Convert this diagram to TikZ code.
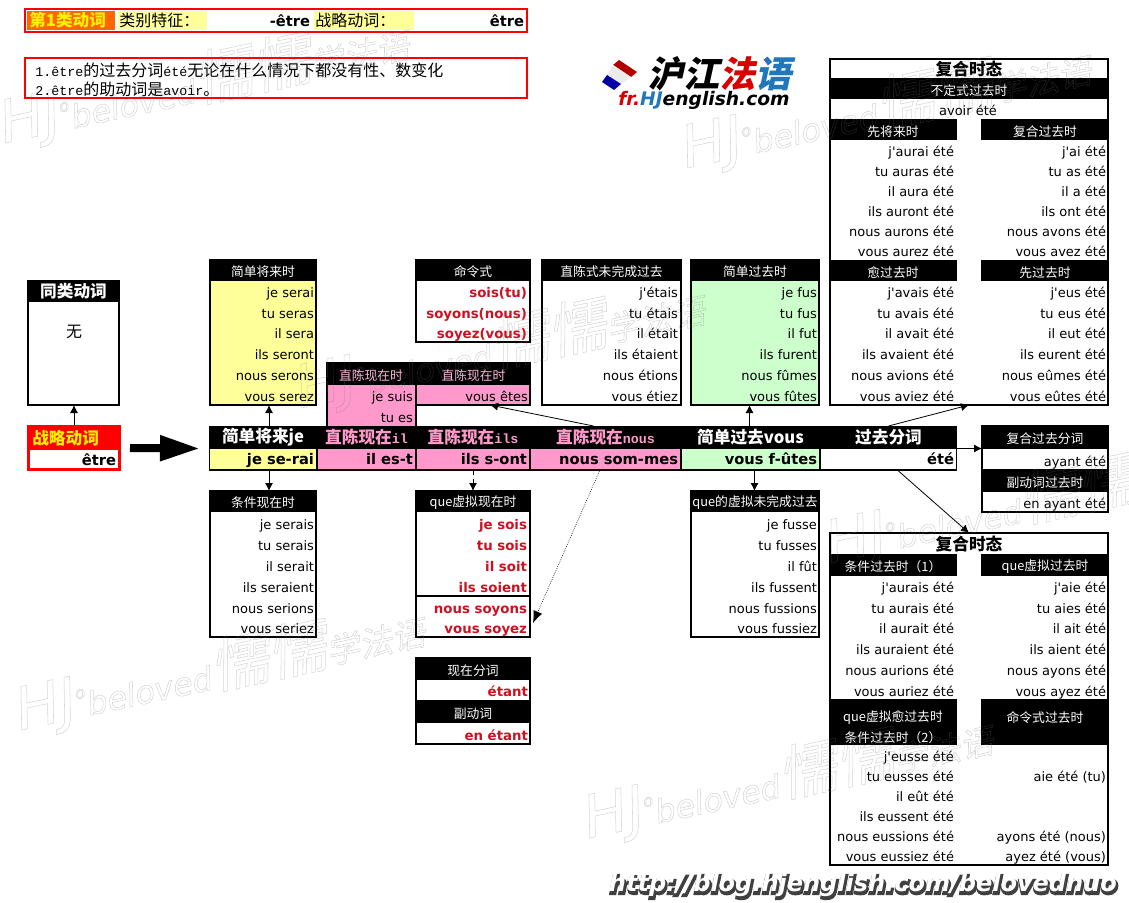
\documentclass[tikz,border=0pt]{standalone}
\usepackage{fontspec}
\setmainfont{DejaVu Sans}
\newfontfamily\cjk{Noto Sans CJK SC}
\newfontfamily\cjkit[FakeSlant=0.22]{Noto Sans CJK SC}
\newfontfamily\mono{Liberation Mono}
\usetikzlibrary{fit,arrows.meta}
\definecolor{cellyellow}{HTML}{FFFF99}
\definecolor{cellpink}{HTML}{FF99CC}
\definecolor{cellgreen}{HTML}{CCFFCC}
\definecolor{cellorange}{HTML}{FF6600}
\definecolor{verbred}{HTML}{CC1122}
\definecolor{logoblue}{HTML}{2277BB}
\newcommand{\fs}[1]{\fontsize{#1}{#1}\selectfont}
\newcommand{\lat}[1]{{\mono\fs{10}#1}}
\newcommand{\ap}{\textquotesingle}
\newcommand{\outl}[1]{\special{pdf:code 1 Tr 0.4 w}#1\special{pdf:code 0 Tr}}
\tikzset{
	frame/.style={draw=black,line width=1.5pt,fill=white,inner sep=0pt,outer sep=0pt},
	redframe/.style={draw=red,line width=2pt,fill=white,inner sep=0pt,outer sep=0pt},
	band/.style={fill=black,inner sep=0pt,outer sep=0pt},
	cell/.style={inner sep=0pt,outer sep=0pt},
	head/.style={text=white,inner sep=0pt,yshift=-1.5pt,font=\cjk\fs{9.6}},
	bighead/.style={text=white,inner sep=0pt,font=\cjk\bfseries\fs{12.5}},
	verb/.style={anchor=east,inner sep=0pt,outer sep=0pt,yshift=-1.5pt,font=\fs{9.75},text height=7pt,text depth=2pt},
	redverb/.style={verb,font=\bfseries\fs{10},text=verbred},
	barverb/.style={verb,font=\bfseries\fs{11}},
	conn/.style={line width=.6pt,-{Latex[length=6pt,width=6pt]}},
	wmark/.style={anchor=west,rotate=12,inner sep=0pt,text=black!55}
}
% frame, band and rows
\newcommand{\frm}[6][frame]{\node[#1,fit={(#3,#4) (#5,#6)}] (#2) {};}
\newcommand{\hd}[6]{\node[band,fit={(#2,#3) (#4,#5)}] (#1) {}; \node[head] (#1t) at (#1.center) {#6};}
\newcommand{\rows}[4][verb]{\foreach \yy/\vv [count=\ii] in {#4} \node[#1] (#2\ii) at (#3,\yy) {\vv};}
\newcommand{\barcell}[7]{\node[cell,fit={(#2,426) (#3,471)}] (#1) {};
	\node[cell,fill=#4,fit={(#2+1,449) (#3-1,469)}] (#1r) {};
	\node[bighead,text=#5] (#1h) at ([yshift=-8.25pt]#1.north) {#6};
	\node[barverb] (#1v) at (#3-3,459) {#7};}
\newcommand{\wm}[3]{\node[wmark] (#1) at (#2,#3) {\outl{\itshape\fs{44}HJ\fs{12}\raisebox{14pt}{o}\fs{24}beloved\cjkit\fs{44}懦懦\fs{25}学法语}};}
\begin{document}
\begin{tikzpicture}[x=.75pt,y=-.75pt]
	\useasboundingbox (0,0) rectangle (1129,903);
	%
	% top bar and note
	\frm[redframe]{topbar}{25}{9}{527}{32}
	\node[cell,fill=cellorange,fit={(27,11) (115,30)}] (tcl) {};
	\node[cell,fill=cellyellow,fit={(118,11) (207,30)}] (tfe) {};
	\node[cell,fill=cellyellow,fit={(314,11) (414,30)}] (tst) {};
	\node[anchor=west,inner sep=0pt,text=yellow,font=\cjk\bfseries\fs{12.5}] (tclt) at (29,20) {第1类动词};
	\node[anchor=west,inner sep=0pt,font=\cjk\fs{12}] (tfet) at (119,20) {类别特征：};
	\node[anchor=west,inner sep=0pt,font=\cjk\fs{12}] (tstt) at (315,20) {战略动词：};
	\node[barverb] (tfev) at (310,21) {-être};
	\node[barverb] (tstv) at (524,21) {être};
	%
	\frm[redframe]{note}{25}{58}{527}{98}
	\node[anchor=west,inner sep=0pt,font=\cjk\fs{12}] (noteA) at (35,70) {\lat{1.être}的过去分词\lat{été}无论在什么情况下都没有性、数变化};
	\node[anchor=west,inner sep=0pt,font=\cjk\fs{12}] (noteB) at (35,89) {\lat{2.être}的助动词是\lat{avoir}。};
	%
	% logo
	\fill[red!70!black] (619,60) -- (637,72) -- (631,77) -- (613,65) -- cycle;
	\fill[black!8] (613,65) -- (631,77) -- (621,84) -- (607,75) -- cycle;
	\fill[blue!65!black] (607,75) -- (621,84) -- (614,90) -- (602,82) -- cycle;
	\node[inner sep=0pt,font=\cjkit\bfseries\fs{27}] (logoA) at (719,74) {沪江\textcolor{red!85!black}{法}\textcolor{logoblue}{语}};
	\node[inner sep=0pt,font=\itshape\bfseries\fs{14}] (logoB) at (704,100) {\textcolor{red!85!black}{fr.}\textcolor{logoblue}{HJ}english.com};
	%
	% left column
	\frm{same}{28}{281}{119}{405}
	\node[band,fit={(28,281) (119,302)}] (sameh) {};
	\node[bighead] (samet) at (sameh.center) {同类动词};
	\node[inner sep=0pt,font=\cjk\fs{12}] (none) at (74,332) {无};
	%
	\node[cell,fill=red,fit={(27,425) (121,471)}] (main) {};
	\node[cell,fill=white,fit={(30,450) (118,468)}] (mainr) {};
	\node[anchor=west,inner sep=0pt,text=yellow,font=\cjk\bfseries\fs{12.5}] (maint) at (32,438) {战略动词};
	\node[barverb] (mainv) at (116,460) {être};
	%
	% boxes above the bar
	\frm[frame,fill=cellyellow]{futur}{210}{260}{316}{405}
	\hd{futurh}{209}{259}{317}{281}{简单将来时}
	\rows{fu}{314}{292/je serai,313/tu seras,333/il sera,354/ils seront,375/nous serons,396/vous serez}
	%
	\frm[frame,fill=cellpink]{presa}{327}{363}{416}{428}
	\hd{presah}{326}{362}{416}{385}{\textcolor{cellpink!70!white}{直陈现在时}}
	\rows{pa}{413}{396/je suis,417/tu es}
	\frm[frame,fill=cellpink]{presb}{416}{363}{530}{405}
	\hd{presbh}{416}{362}{531}{385}{\textcolor{cellpink!70!white}{直陈现在时}}
	\rows{pb}{528}{396/vous êtes}
	%
	\frm{imper}{416}{260}{530}{342}
	\hd{imperh}{415}{259}{531}{281}{命令式}
	\rows[redverb]{im}{527}{292/sois(tu),313/soyons(nous),333/soyez(vous)}
	%
	\frm{impf}{542}{260}{681}{405}
	\hd{impfh}{541}{259}{682}{281}{直陈式未完成过去}
	\rows{ip}{678}{292/j\ap étais,313/tu étais,333/il était,354/ils étaient,375/nous étions,396/vous étiez}
	%
	\frm[frame,fill=cellgreen]{passe}{691}{260}{819}{405}
	\hd{passeh}{690}{259}{820}{281}{简单过去时}
	\rows{pe}{817}{292/je fus,313/tu fus,333/il fut,354/ils furent,375/nous fûmes,396/vous fûtes}
	%
	% upper compound tenses
	\frm{comptop}{830}{59}{1108}{405}
	\node[inner sep=0pt,font=\cjk\bfseries\fs{12.5}] (comptopt) at (969,69) {复合时态};
	\hd{infp}{829}{78}{1109}{99}{不定式过去时}
	\node[inner sep=0pt,font=\fs{9.75}] (avoir) at (968,110) {avoir été};
	\hd{fant}{829}{119}{957}{140}{先将来时}
	\hd{pcomp}{981}{119}{1109}{140}{复合过去时}
	\rows{fa}{954}{151/j\ap aurai été,171/tu auras été,191/il aura été,211/ils auront été,231/nous aurons été,251/vous aurez été}
	\rows{pc}{1106}{151/j\ap ai été,171/tu as été,191/il a été,211/ils ont été,231/nous avons été,251/vous avez été}
	\hd{pqp}{829}{260}{957}{281}{愈过去时}
	\hd{pant}{981}{260}{1109}{281}{先过去时}
	\rows{pq}{954}{292/j\ap avais été,313/tu avais été,333/il avait été,354/ils avaient été,375/nous avions été,396/vous aviez été}
	\rows{pn}{1106}{292/j\ap eus été,313/tu eus été,333/il eut été,354/ils eurent été,375/nous eûmes été,396/vous eûtes été}
	%
	% middle bar
	\node[band,fit={(209,426) (957,471)}] (verbbar) {};
	\barcell{barje}{209}{317}{cellyellow}{white}{简单将来je}{je se-rai}
	\barcell{baril}{317}{416}{cellpink}{cellpink}{直陈现在\lat{il}}{il es-t}
	\barcell{barils}{416}{530}{cellpink}{cellpink}{直陈现在\lat{ils}}{ils s-ont}
	\barcell{barnous}{530}{681}{cellpink}{cellpink}{直陈现在\lat{nous}}{nous som-mes}
	\barcell{barvous}{681}{820}{cellgreen}{white}{简单过去vous}{vous f-ûtes}
	\barcell{barpp}{820}{957}{white}{white}{过去分词}{été}
	%
	% boxes below the bar
	\frm{cond}{210}{491}{316}{637}
	\hd{condh}{209}{490}{317}{512}{条件现在时}
	\rows{co}{314}{524/je serais,545/tu serais,566/il serait,587/ils seraient,608/nous serions,628/vous seriez}
	%
	\frm{subj}{416}{491}{530}{637}
	\hd{subjh}{415}{490}{531}{512}{que虚拟现在时}
	\rows[redverb]{su}{527}{524/je sois,545/tu sois,566/il soit,587/ils soient,608/nous soyons,628/vous soyez}
	\draw[line width=1.5pt] (subj.west |- 0,596) coordinate (subjl) -- (subj.east |- 0,596) coordinate (subjr);
	%
	\frm{pres}{416}{658}{530}{744}
	\hd{presp}{415}{657}{531}{680}{现在分词}
	\rows[redverb]{pp}{528}{691/étant}
	\hd{gerh}{415}{700}{531}{723}{副动词}
	\rows[redverb]{ge}{528}{735/en étant}
	%
	\frm{impsub}{691}{491}{819}{637}
	\hd{impsubh}{690}{490}{820}{512}{que的虚拟未完成过去}
	\rows{is}{817}{524/je fusse,545/tu fusses,566/il fût,587/ils fussent,608/nous fussions,628/vous fussiez}
	%
	% participle box
	\frm{partb}{982}{426}{1108}{512}
	\hd{parth}{981}{425}{1109}{449}{复合过去分词}
	\rows{ay}{1106}{461/ayant été}
	\hd{gerph}{981}{469}{1109}{492}{副动词过去时}
	\rows{ea}{1106}{503/en ayant été}
	%
	% lower compound tenses
	\frm{compbot}{830}{533}{1108}{865}
	\node[inner sep=0pt,font=\cjk\bfseries\fs{12.5}] (compbott) at (969,544) {复合时态};
	\hd{conda}{829}{554}{957}{576}{条件过去时（1）}
	\hd{subja}{981}{554}{1109}{576}{que虚拟过去时}
	\rows{ca}{954}{587/j\ap aurais été,608/tu aurais été,628/il aurait été,649/ils auraient été,670/nous aurions été,691/vous auriez été}
	\rows{sa}{1106}{587/j\ap aie été,608/tu aies été,628/il ait été\hspace{3pt},649/ils aient été,670/nous ayons été,691/vous ayez été}
	\node[band,fit={(829,699) (957,745)}] (subjq) {};
	\node[head] (subjqa) at (893,716) {que虚拟愈过去时};
	\node[head] (subjqb) at (893,736) {条件过去时（2）};
	\node[band,fit={(981,699) (1109,745)}] (impa) {};
	\node[head] (impat) at (1045,716) {命令式过去时};
	\rows{sq}{954}{756/j\ap eusse été,776/tu eusses été,796/il eût été,816/ils eussent été,836/nous eussions été,856/vous eussiez été}
	\rows{ia}{1106}{776/aie été (tu),836/ayons été (nous),856/ayez été (vous)}
	%
	% connectors
	\draw[conn] (main.north) -- (main.north |- same.south);
	\draw[line width=6pt,-{Triangle[length=30pt,width=18pt]}] ([xshift=6.75pt]main.east) -- ([xshift=-6.75pt]barje.west);
	\draw[conn] ([xshift=4.5pt]barje.north) -- ([xshift=4.5pt]futur.south);
	\draw[conn] ([xshift=4.5pt]barje.south) -- ([xshift=4.5pt]cond.north);
	\draw[conn,dashed] (barils.south) -- (subj.north);
	\draw[conn] ([xshift=-9pt]barnous.north) -- ([xshift=12.75pt]presb.south);
	\draw[densely dotted,line width=.5pt,-{Latex[length=9pt,width=7pt]}] ([xshift=-4.5pt]barnous.south) -- ([shift={(2.25pt,10.5pt)}]subj.south east);
	\draw[conn] ([xshift=-.75pt]barvous.north) -- ([xshift=-.75pt]barvous.north |- passe.south);
	\draw[conn] ([xshift=3pt]barvous.south) -- ([xshift=3pt]barvous.south |- impsub.north);
	\draw[conn] (barpp.north) -- (comptop.south);
	\draw[conn] (barpp.east) -- (barpp.east -| partb.west);
	\draw[conn] ([xshift=7.5pt]barpp.south) -- (compbot.north);
	%
	% watermarks
	\begin{scope}[draw opacity=.3]
	\wm{wmA}{0}{125}
	\wm{wmB}{682}{150}
	\wm{wmC}{296}{390}
	\wm{wmD}{16}{712}
	\wm{wmE}{584}{820}
	\wm{wmF}{826}{545}
	\end{scope}
	%
	% address
	\node[anchor=east,inner sep=0pt,text=black!75,font=\itshape\bfseries\fs{18}] (urlshadow) at (1118,887) {\special{pdf:code 2 Tr 2.2 w}http://blog.hjenglish.com/belovednuo\special{pdf:code 0 Tr}};
	\node[anchor=east,inner sep=0pt,text=white,font=\itshape\bfseries\fs{18}] (url) at (1117,885) {http://blog.hjenglish.com/belovednuo};
\end{tikzpicture}
\end{document}
